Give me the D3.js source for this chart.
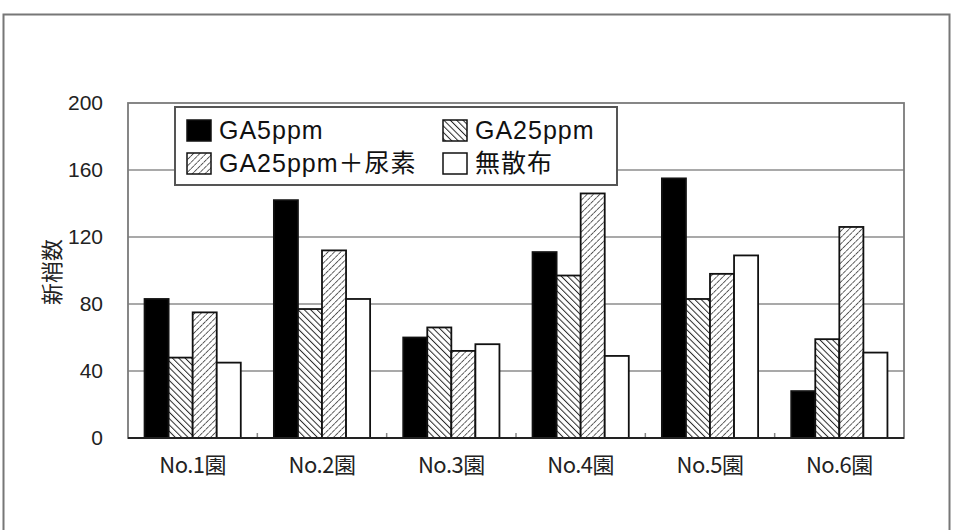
<!DOCTYPE html>
<html>
<head>
<meta charset="utf-8">
<script src="https://cdn.jsdelivr.net/npm/d3@7"></script>
<style>
  html, body { margin: 0; padding: 0; background: #fff; }
  svg { display: block; }
</style>
</head>
<body>
<svg id="chart" width="953" height="530"></svg>
<script>
// Orchards and treatments
const categories = ["No.1園", "No.2園", "No.3園", "No.4園", "No.5園", "No.6園"];
const seriesNames = ["GA5ppm", "GA25ppm", "GA25ppm＋尿素", "無散布"];

// New shoot counts per orchard, one array per treatment
const ga5 = [83, 142, 60, 111, 155, 28];
const ga25 = [48, 77, 66, 97, 83, 59];
const ga25Urea = [75, 112, 52, 146, 98, 126];
const noSpray = [45, 83, 56, 49, 109, 51];

const yTicks = [0, 40, 80, 120, 160, 200];
const yLabel = "新梢数";

const seriesValues = [ga5, ga25, ga25Urea, noSpray];

const svg = d3.select("#chart");
const defs = svg.append("defs");

// Hatch patterns: "\\\\" for GA25ppm, "////" for GA25ppm + urea
const p1 = defs.append("pattern")
  .attr("id", "hatchBack").attr("patternUnits", "userSpaceOnUse")
  .attr("width", 4.5).attr("height", 4.5)
  .attr("patternTransform", "rotate(-45)");
p1.append("rect").attr("width", 4.5).attr("height", 4.5).attr("fill", "#fff");
p1.append("line").attr("x1", 0).attr("y1", 0).attr("x2", 0).attr("y2", 4.5)
  .attr("stroke", "#2a2a2a").attr("stroke-width", 2);

const p2 = defs.append("pattern")
  .attr("id", "hatchFwd").attr("patternUnits", "userSpaceOnUse")
  .attr("width", 4.5).attr("height", 4.5)
  .attr("patternTransform", "rotate(45)");
p2.append("rect").attr("width", 4.5).attr("height", 4.5).attr("fill", "#fff");
p2.append("line").attr("x1", 0).attr("y1", 0).attr("x2", 0).attr("y2", 4.5)
  .attr("stroke", "#444").attr("stroke-width", 1.7).attr("stroke-dasharray", "4 1");

const fills = ["#000", "url(#hatchBack)", "url(#hatchFwd)", "#fff"];

// Outer frame
svg.append("rect")
  .attr("x", 3.5).attr("y", 14.5).attr("width", 946).attr("height", 530)
  .attr("fill", "none").attr("stroke", "#777").attr("stroke-width", 2);

const plot = { left: 128, right: 904, top: 103, bottom: 438 };

const x0 = d3.scaleBand()
  .domain(categories)
  .range([plot.left, plot.right])
  .paddingInner(0.256)
  .paddingOuter(0.128);

const x1 = d3.scaleBand()
  .domain(seriesNames)
  .range([0, x0.bandwidth()]);

const y = d3.scaleLinear().domain([0, 200]).range([plot.bottom, plot.top]);

// Gridlines
svg.append("g").selectAll("line")
  .data(yTicks.filter(t => t > 0 && t < 200))
  .join("line")
  .attr("x1", plot.left).attr("x2", plot.right)
  .attr("y1", d => y(d)).attr("y2", d => y(d))
  .attr("stroke", "#8c8c8c").attr("stroke-width", 1.6);

// Plot frame
svg.append("rect")
  .attr("x", plot.left).attr("y", plot.top)
  .attr("width", plot.right - plot.left).attr("height", plot.bottom - plot.top)
  .attr("fill", "none").attr("stroke", "#7a7a7a").attr("stroke-width", 1.8);

// Small category boundary ticks on the baseline
const stepW = x0.step();
svg.append("g").selectAll("line")
  .data(d3.range(1, categories.length))
  .join("line")
  .attr("x1", i => plot.left + i * stepW).attr("x2", i => plot.left + i * stepW)
  .attr("y1", plot.bottom).attr("y2", plot.bottom - 5)
  .attr("stroke", "#888").attr("stroke-width", 1.5);

// Bars
const groups = svg.append("g").selectAll("g")
  .data(categories)
  .join("g")
  .attr("transform", d => `translate(${x0(d)},0)`);

groups.selectAll("rect")
  .data((c, ci) => seriesNames.map((s, si) => ({ s, si, v: seriesValues[si][ci] })))
  .join("rect")
  .attr("x", d => x1(d.s))
  .attr("y", d => y(d.v))
  .attr("width", x1.bandwidth())
  .attr("height", d => y(0) - y(d.v))
  .attr("fill", d => fills[d.si])
  .attr("stroke", "#111")
  .attr("stroke-width", 1.8);

// Baseline
svg.append("line")
  .attr("x1", plot.left).attr("x2", plot.right)
  .attr("y1", plot.bottom).attr("y2", plot.bottom)
  .attr("stroke", "#222").attr("stroke-width", 2);

// Y axis labels
const yAxis = d3.axisLeft(y).tickValues(yTicks).tickSize(0).tickPadding(25);
const yg = svg.append("g").attr("transform", `translate(${plot.left},0)`).call(yAxis);
yg.select(".domain").remove();
yg.selectAll("text")
  .attr("font-family", "'Liberation Sans', Arial, sans-serif")
  .attr("font-size", 21).attr("fill", "#222");

// X axis labels
const xAxis = d3.axisBottom(x0).tickSize(0).tickPadding(19);
const xg = svg.append("g").attr("transform", `translate(0,${plot.bottom})`).call(xAxis);
xg.select(".domain").remove();
xg.selectAll("text")
  .attr("font-family", "'Noto Sans CJK JP', sans-serif")
  .attr("font-size", 22).attr("fill", "#222")
  .attr("letter-spacing", -0.5);

// Y axis title
svg.append("text")
  .attr("transform", "translate(60,272) rotate(-90)")
  .attr("text-anchor", "middle")
  .attr("font-family", "'Noto Sans CJK JP', sans-serif")
  .attr("font-size", 22).attr("fill", "#222")
  .text(yLabel);

// Legend
const legend = svg.append("g");
legend.append("rect")
  .attr("x", 175).attr("y", 107).attr("width", 442).attr("height", 78)
  .attr("fill", "#fff").attr("stroke", "#555").attr("stroke-width", 2);

const legendPos = [
  { x: 187, y: 120 }, { x: 443, y: 120 },
  { x: 187, y: 153 }, { x: 443, y: 153 }
];

const items = legend.selectAll("g.item")
  .data(seriesNames)
  .join("g").attr("class", "item")
  .attr("transform", (d, i) => `translate(${legendPos[i].x},${legendPos[i].y})`);

items.append("rect")
  .attr("width", 24).attr("height", 21)
  .attr("fill", (d, i) => fills[i])
  .attr("stroke", "#111").attr("stroke-width", 1.5);

items.append("text")
  .attr("x", 32).attr("y", 18.5)
  .attr("font-family", "'Liberation Sans', 'Noto Sans CJK JP', Arial, sans-serif")
  .attr("font-size", 25).attr("fill", "#111")
  .attr("letter-spacing", 1)
  .text(d => d);
</script>
</body>
</html>
